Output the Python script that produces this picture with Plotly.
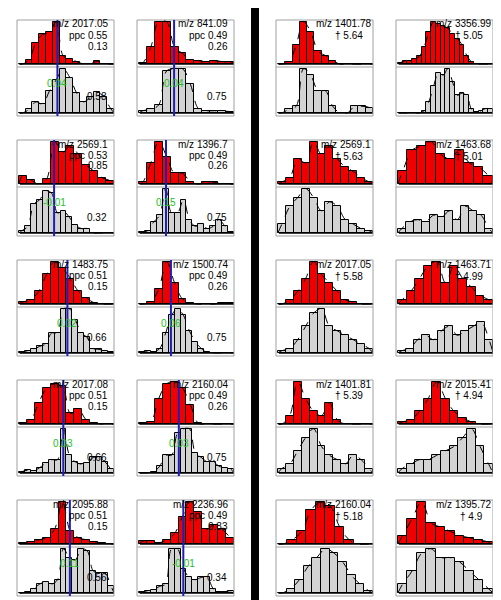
import plotly.graph_objects as go

# ---------------- data ----------------
# left block (columns 1-2), row-major
mz_left = ["2017.05", "841.09", "2569.1", "1396.7", "1483.75", "1500.74",
           "2017.08", "2160.04", "2095.88", "2236.96"]
ppc_left = ["0.55", "0.49", "0.53", "0.49", "0.51", "0.49", "0.51", "0.49", "0.51", "0.49"]
third_left = ["0.13", "0.26", "0.85", "0.26", "0.15", "0.26", "0.15", "0.26", "0.15", "0.83"]
green_left = ["0.04", "0.04", "-0.01", "0.15", "0.02", "0.06", "0.03", "0.03", "0.11", "-0.01"]
lower_left = ["0.58", "0.75", "0.32", "0.75", "0.66", "0.75", "0.66", "0.75", "0.56", "0.34"]
blue_left = [0.405, 0.37, 0.37, 0.285, 0.51, 0.337, 0.467, 0.42, 0.536, 0.467]

# right block (columns 3-4), row-major
mz_right = ["1401.78", "3356.99", "2569.1", "1463.68", "2017.05", "1463.71",
            "1401.81", "2015.41", "2160.04", "1395.72"]
dagger_right = ["5.64", "5.05", "5.63", "5.01", "5.58", "4.99", "5.39", "4.94", "5.18", "4.9"]

red_1_1 = [0, 1, 5, 7, 7.5, 10, 2, 1.2, 0.6, 0, 0, 0.7, 0, 0]
gray_1_1 = [0, 0.8, 2.5, 2, 5, 7.5, 10, 8, 4.5, 2.5, 3.5, 4.8, 3.5, 1]
red_1_2 = [0.3, 4, 10, 10, 4, 2.5, 1, 0.8, 0.6, 0.8, 0.6, 0.6]
gray_1_2 = [0.5, 0.8, 1.8, 9.5, 10, 10, 6.5, 1, 0.5, 0.5, 0.4, 0.3]
red_1_3 = [0, 0.5, 4.5, 10, 7.5, 3, 2, 0.8, 0, 0, 0, 0, 0]
gray_1_3 = [0, 0.8, 1.5, 10, 8.5, 5, 5, 1.5, 0, 0, 1.5, 1.5, 1.2]
red_1_4 = [0.3, 0.8, 0.8, 1.2, 1.8, 4, 7.5, 10, 9.5, 9, 8.5, 7, 6, 4.5, 2, 0.5, 0, 0, 0, 0]
gray_1_4 = [0, 0, 0, 0, 0, 0.5, 2.5, 6, 9, 8.5, 10, 7, 4, 4.5, 4, 0.8, 0.3, 0.5, 1, 0.8]
red_2_1 = [2, 1, 0, 1.2, 10, 7.5, 9, 7, 4.5, 3, 1.5, 0.8]
gray_2_1 = [0.5, 1.5, 6.5, 7.5, 9.5, 9, 4.5, 5, 3.5, 1.8, 1, 1, 0, 0, 0, 0]
red_2_2 = [0.5, 5, 10, 6.5, 2.5, 2.5, 0.6, 0, 0.4, 0.4, 0, 0]
gray_2_2 = [0.2, 0.5, 2.5, 4, 10, 4.5, 4.5, 7.5, 3, 1.5, 2, 1, 1.5, 3, 1.5, 0.3]
red_2_3 = [0.5, 1.5, 6, 5, 10, 7, 9, 6, 4, 3, 1.5, 0.5]
gray_2_3 = [2, 6, 8, 10, 8, 5, 7, 6, 3, 2, 1, 0.5]
red_2_4 = [3, 8, 9, 10, 7, 6, 8, 5, 4, 2]
gray_2_4 = [1, 2.5, 3, 2.5, 4, 3.5, 5, 3, 6, 5, 4, 1]
red_3_1 = [0.5, 1, 3, 7, 10, 8.5, 6, 3, 1.5, 0.3, 0, 0]
gray_3_1 = [0.2, 0.5, 0.8, 1.5, 2, 4.5, 4.5, 10, 10, 7.5, 4.5, 3.5, 1, 0.8, 0.5, 0.3]
red_3_2 = [0, 0.5, 3.5, 10, 5, 1.2, 0.3, 0, 0, 0, 0.3, 0.3]
gray_3_2 = [0.3, 0.4, 0.3, 1, 4.5, 8.5, 10, 8.5, 5, 2.5, 1, 0.3, 0, 0, 0, 0]
red_3_3 = [0, 1, 3, 6, 10, 7, 5, 3, 1, 0.5, 0, 0]
gray_3_3 = [0.5, 1, 3, 6, 9, 10, 6, 5, 4, 3, 2, 1]
red_3_4 = [1, 3, 6, 9, 10, 5, 9, 6, 4, 2, 1]
gray_3_4 = [0.5, 1, 3, 4, 3, 5, 6, 4, 5, 6, 7, 3]
red_4_1 = [0.2, 1, 5, 8.5, 9.5, 9, 2.5, 3.5, 1, 0.3, 0, 0]
gray_4_1 = [0.3, 0.6, 0.5, 1.2, 2.2, 3, 3, 10, 4, 2.5, 2, 2.2, 3.5, 3.5, 2.5, 0.8]
red_4_2 = [0.2, 0.5, 6, 9.5, 10, 8.5, 4.5, 0.2, 0, 0, 0, 0]
gray_4_2 = [0, 0, 0.3, 1.5, 4, 4, 9, 10, 10, 4.5, 3.5, 2.5, 2.5, 1.5, 1.2, 0.8]
red_4_3 = [0, 2, 10, 6, 3, 2, 5, 1, 0, 0, 0, 0]
gray_4_3 = [1, 2, 5, 8, 10, 6, 4, 3, 2, 4, 3, 1]
red_4_4 = [0.5, 1, 3, 6, 10, 6, 3, 1.5, 0.5, 0, 0]
gray_4_4 = [1, 2, 3, 3, 4, 5, 6, 8, 10, 6, 2]
red_5_1 = [0.2, 0.5, 1, 1.5, 3.5, 10, 3, 1.5, 1, 0.6, 0.2, 0]
gray_5_1 = [0, 0.3, 1, 2, 2.5, 2, 3, 10, 8, 7.5, 10, 9.5, 5, 4.5, 4.5, 1.5]
red_5_2 = [0.7, 0.7, 0.3, 1, 2.5, 6.5, 10, 7.5, 3.5, 4.5, 3.5, 1.5]
gray_5_2 = [0.2, 0.5, 0.7, 1.5, 2, 10, 10, 5.5, 3.5, 3, 3.5, 3.5, 1, 0.3, 0.3, 0.5]
red_5_3 = [0, 1, 3, 8, 10, 9, 4, 1, 0, 0]
gray_5_3 = [0, 1, 3, 6, 8, 10, 9, 7, 4, 2, 0.5]
red_5_4 = [2, 6, 10, 5, 4, 3, 2, 1.5, 1, 0.5]
gray_5_4 = [2, 5, 9, 10, 8, 8, 7, 5, 3, 1]

red_sets = [red_1_1, red_1_2, red_1_3, red_1_4, red_2_1, red_2_2, red_2_3, red_2_4,
            red_3_1, red_3_2, red_3_3, red_3_4, red_4_1, red_4_2, red_4_3, red_4_4,
            red_5_1, red_5_2, red_5_3, red_5_4]
gray_sets = [gray_1_1, gray_1_2, gray_1_3, gray_1_4, gray_2_1, gray_2_2, gray_2_3, gray_2_4,
             gray_3_1, gray_3_2, gray_3_3, gray_3_4, gray_4_1, gray_4_2, gray_4_3, gray_4_4,
             gray_5_1, gray_5_2, gray_5_3, gray_5_4]

# ---------------- layout geometry ----------------
W, H = 501, 600
COLS = [9, 129, 268, 388]
ROWS = [12, 132, 252, 372, 492]
BW, BH, HALF = 97, 96, 47
FONT = "Liberation Sans, Arial, sans-serif"
RED = "#f00000"
GRAY = "#d3d3d3"
BLUE = "#1f1fb8"
GREEN = "#22c022"
FRAME = "#a0a0a0"


def px(x):
    return x / W


def py(y):
    return 1 - y / H


def aname(i, kind):
    return kind if i == 1 else f"{kind}{i}"


fig = go.Figure()
layout = {}
shapes = []
annotations = []
ax = 0
for r in range(5):
    for c in range(4):
        p = r * 4 + c
        x0, y0 = COLS[c], ROWS[r]
        halves = [(red_sets[p], RED, y0, y0 + HALF), (gray_sets[p], GRAY, y0 + HALF, y0 + BH)]
        red_ax = ax + 1
        for vals, fill, top, bot in halves:
            ax += 1
            xa, ya = aname(ax, "x"), aname(ax, "y")
            layout[aname(ax, "xaxis")] = dict(domain=[px(x0), px(x0 + BW)], range=[-0.02, 1.0],
                                               visible=False, anchor=ya, fixedrange=True)
            layout[aname(ax, "yaxis")] = dict(domain=[py(bot), py(top)], range=[-0.7, 10.4],
                                               visible=False, anchor=xa, fixedrange=True)
            n = len(vals)
            xs = [(i + 0.5) / n for i in range(n)]
            fig.add_trace(go.Bar(x=xs, y=vals, width=[1.0 / n] * n, xaxis=xa, yaxis=ya,
                                 marker=dict(color=fill, line=dict(color="black", width=1)),
                                 hoverinfo="skip"))
            fig.add_trace(go.Scatter(x=[0] + xs + [1], y=[0] + vals + [0], mode="lines",
                                     xaxis=xa, yaxis=ya, hoverinfo="skip",
                                     line=dict(color="black", width=1, dash="dash",
                                               shape="spline", smoothing=1.0)))
            shapes.append(dict(type="line", xref=f"{xa} domain", yref=ya, x0=0.03, x1=1.0,
                               y0=0, y1=0, line=dict(color="black", width=1.5)))
        # frame and divider
        shapes.append(dict(type="rect", xref="paper", yref="paper", x0=px(x0), x1=px(x0 + BW),
                           y0=py(y0 + BH), y1=py(y0), line=dict(color=FRAME, width=1)))
        shapes.append(dict(type="line", xref="paper", yref="paper", x0=px(x0), x1=px(x0 + BW),
                           y0=py(y0 + HALF), y1=py(y0 + HALF), line=dict(color=FRAME, width=1)))
        if c < 2:
            k = r * 2 + c
            bx = aname(red_ax, "x")
            shapes.append(dict(type="line", xref=bx, yref="paper", x0=blue_left[k], x1=blue_left[k],
                               y0=py(y0 + BH), y1=py(y0), line=dict(color=BLUE, width=2)))
            for txt, dy in [(f"m/z {mz_left[k]}", 4), (f"ppc {ppc_left[k]}", 15), (third_left[k], 26)]:
                annotations.append(dict(text=txt, xref="paper", yref="paper", x=px(x0 + BW - 4),
                                        y=py(y0 + dy), xanchor="right", yanchor="middle",
                                        showarrow=False, font=dict(family=FONT, size=10, color="black")))
            annotations.append(dict(text=green_left[k], xref=bx, yref="paper", x=blue_left[k],
                                    y=py(y0 + 63), xanchor="center", yanchor="middle", showarrow=False,
                                    font=dict(family=FONT, size=10, color=GREEN)))
            annotations.append(dict(text=lower_left[k], xref="paper", yref="paper", x=px(x0 + BW - 5),
                                    y=py(y0 + 77), xanchor="right", yanchor="middle", showarrow=False,
                                    font=dict(family=FONT, size=10, color="black")))
        else:
            k = r * 2 + (c - 2)
            annotations.append(dict(text=f"m/z {mz_right[k]}", xref="paper", yref="paper",
                                    x=px(x0 + BW), y=py(y0 + 4), xanchor="right", yanchor="middle",
                                    showarrow=False, font=dict(family=FONT, size=10, color="black")))
            annotations.append(dict(text=f"\u2020 {dagger_right[k]}", xref="paper", yref="paper",
                                    x=px(x0 + BW - 8), y=py(y0 + 16), xanchor="right", yanchor="middle",
                                    showarrow=False, font=dict(family=FONT, size=10, color="black")))

# black separator between the two blocks
shapes.append(dict(type="rect", xref="paper", yref="paper", x0=px(243), x1=px(251), y0=0, y1=1,
                   fillcolor="black", line=dict(width=0)))

fig.update_layout(width=W, height=H, margin=dict(l=0, r=0, t=0, b=0),
                  paper_bgcolor="white", plot_bgcolor="white", showlegend=False,
                  bargap=0, barmode="overlay", shapes=shapes, annotations=annotations, **layout)
fig.write_html("out.html", config={"displayModeBar": False})
